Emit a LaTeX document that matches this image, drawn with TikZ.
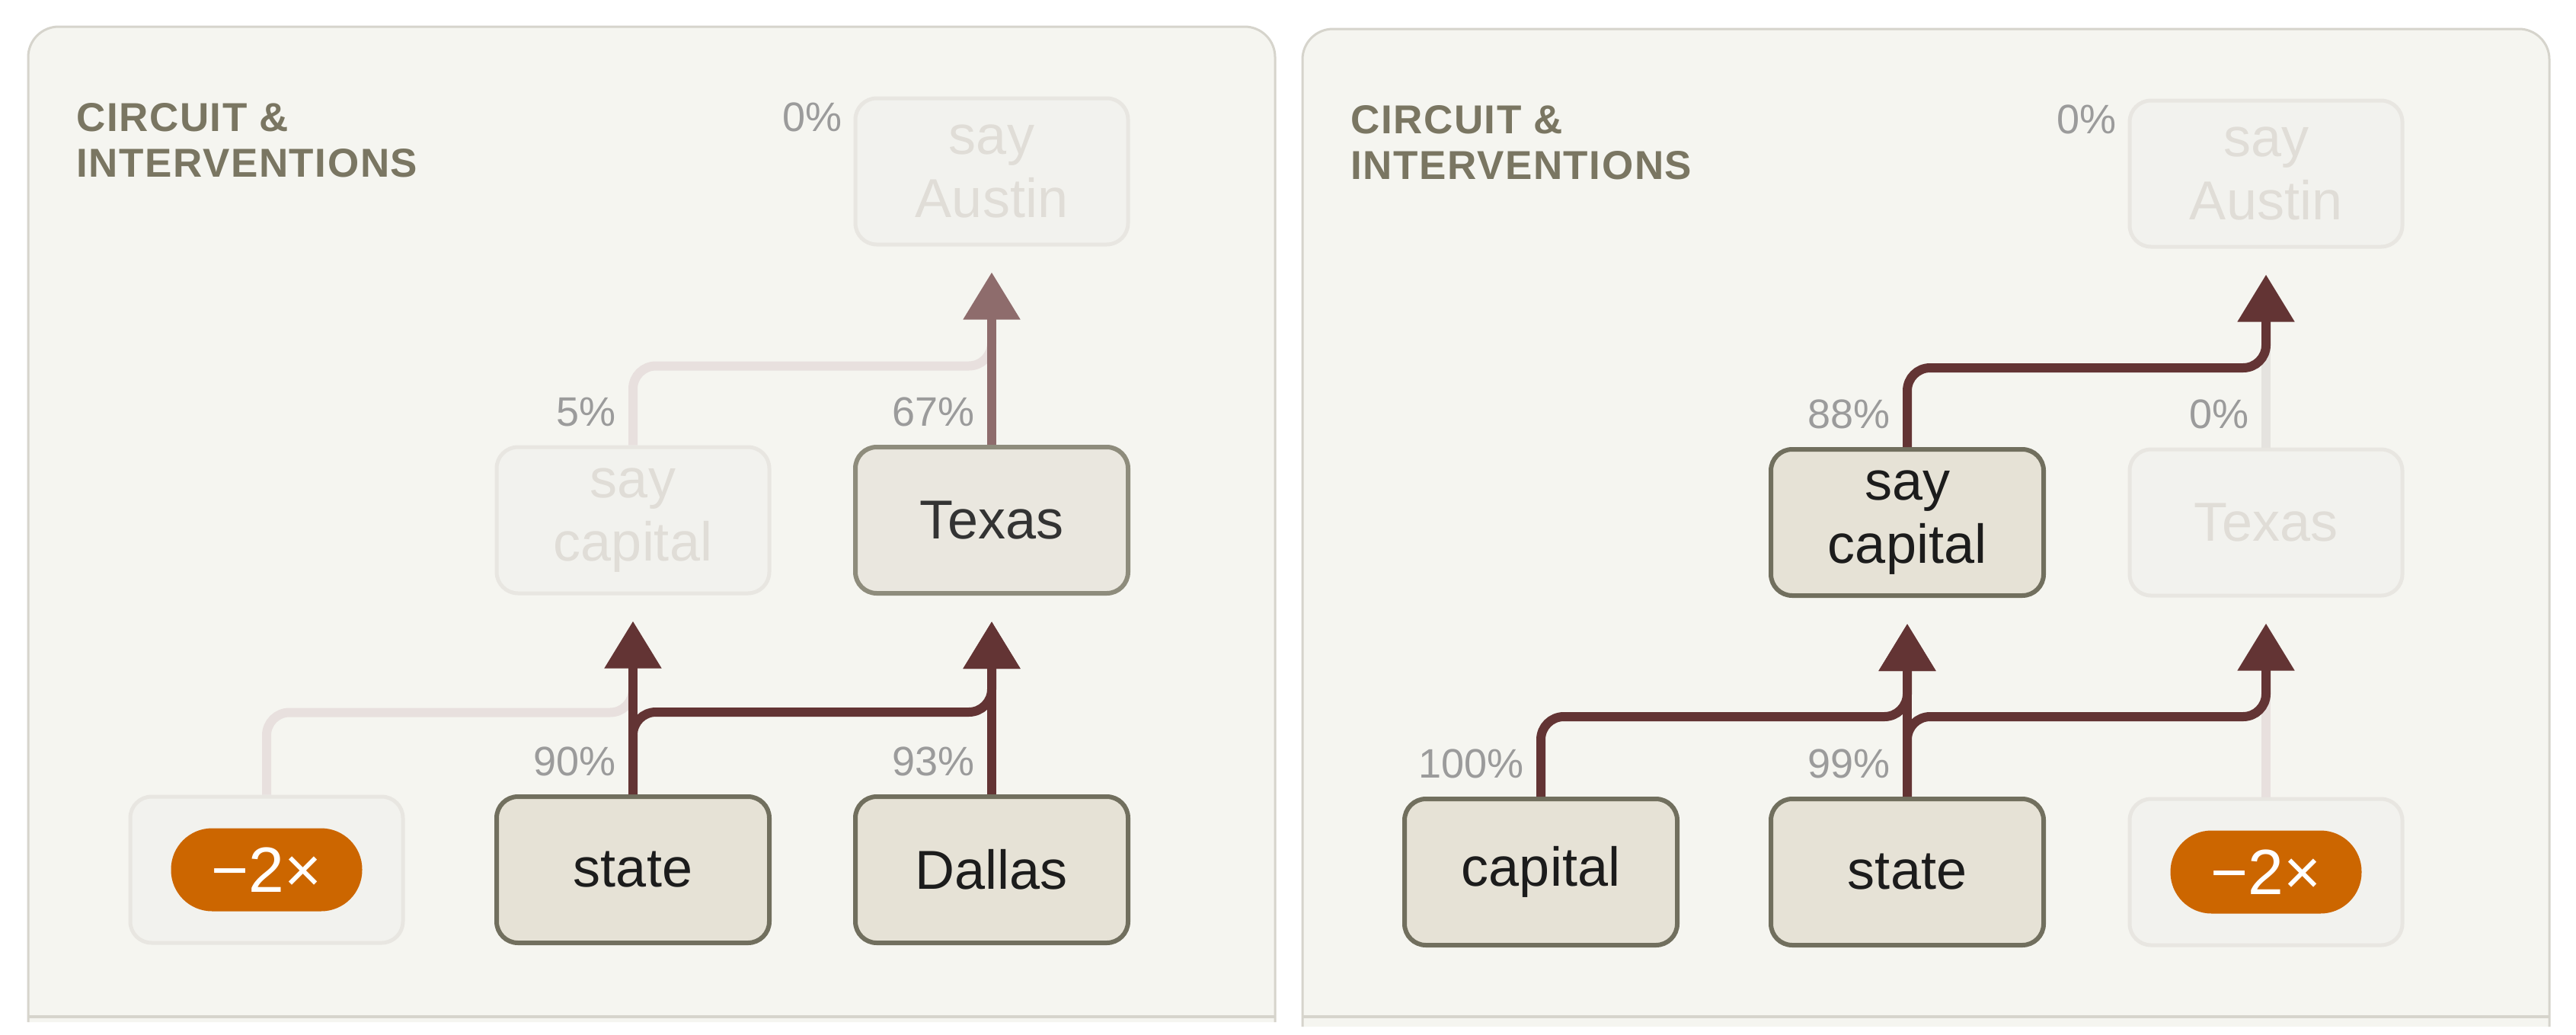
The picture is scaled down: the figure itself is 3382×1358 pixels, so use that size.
\documentclass[tikz,border=0pt]{standalone}
\usepackage{fontspec}
\setmainfont{Liberation Sans}
\usetikzlibrary{arrows.meta}
\definecolor{panelfill}{RGB}{245,245,240}
\definecolor{panelline}{RGB}{214,212,204}
\definecolor{titlecol}{RGB}{122,118,98}
\definecolor{activefill}{RGB}{230,226,214}
\definecolor{activeline}{RGB}{113,111,94}
\definecolor{softfill}{RGB}{234,231,223}
\definecolor{softline}{RGB}{142,140,124}
\definecolor{fadedfill}{RGB}{242,242,238}
\definecolor{fadedline}{RGB}{232,230,225}
\definecolor{fadedtext}{RGB}{224,221,215}
\definecolor{textdark}{RGB}{28,28,28}
\definecolor{pctgray}{RGB}{155,155,155}
\definecolor{edgedark}{RGB}{99,52,52}
\definecolor{edgemid}{RGB}{142,108,108}
\definecolor{edgefaint}{RGB}{232,224,222}
\definecolor{edgegray}{RGB}{229,227,223}
\definecolor{pillorange}{RGB}{204,102,0}
\tikzset{
  box/.style={rectangle, rounded corners=28pt, minimum width=358pt, minimum height=192pt,
    inner sep=0pt, align=center, font=\fontsize{72pt}{83pt}\selectfont},
  activebox/.style={box, fill=activefill, draw=activeline, line width=6pt, text=textdark},
  softbox/.style={box, fill=softfill, draw=softline, line width=6pt, text=black!80},
  fadedbox/.style={box, fill=fadedfill, draw=fadedline, line width=5pt, text=fadedtext},
  pct/.style={anchor=base east, inner sep=0pt, text=pctgray, font=\fontsize{54pt}{60pt}\selectfont},
  titletext/.style={anchor=base west, inner sep=0pt, text=titlecol,
    font=\fontsize{53pt}{60pt}\selectfont\bfseries\addfontfeature{LetterSpace=3}},
  pill/.style={rectangle, rounded corners=54pt, minimum width=251pt, minimum height=109pt,
    inner sep=0pt, fill=pillorange, text=white, font=\fontsize{84pt}{90pt}\selectfont},
  wire/.style={line width=12pt, rounded corners=30pt},
  arrowwire/.style={wire, -{Triangle[length=62pt,width=72pt]}, shorten >=34pt},
  darkedge/.style={arrowwire, draw=edgedark},
  midedge/.style={arrowwire, draw=edgemid},
  faintedge/.style={wire, draw=edgefaint},
  grayedge/.style={wire, draw=edgegray},
  panel/.style={draw=panelline, fill=panelfill, line width=3pt, rounded corners=40pt},
  panelbase/.style={draw=panelline, line width=4pt}
}
\begin{document}
\begin{tikzpicture}[x=1pt,y=-1pt]
\path[use as bounding box, fill=white] (0,0) rectangle (3382,1358);

% ---------------- left panel ----------------
\path[panel] (37,1342) -- (37,35) -- (1674,35) -- (1674,1342);
\draw[panelbase] (37,1335) -- (1674,1335);
\node[titletext] (L-t1) at (100,172) {CIRCUIT \&};
\node[titletext] (L-t2) at (100,232) {INTERVENTIONS};

\node[fadedbox] (L-sa) at (1302,225) {say\\Austin};
\node[fadedbox] (L-sc) at (831,683) {say\\capital};
\node[softbox] (L-texas) at (1302,683) {Texas};
\node[fadedbox] (L-neg) at (350,1142) {};
\node[pill] (L-pill) at (L-neg.center) {−2×};
\node[activebox] (L-state) at (831,1142) {state};
\node[activebox] (L-dallas) at (1302,1142) {Dallas};

\draw[faintedge] (L-sc.north) -- ++(0,-104) -| ([yshift=-100pt]L-sa.south);
\draw[faintedge] (L-neg.north) -- ++(0,-108) -| ([yshift=-110pt]L-sc.south);
\draw[midedge] (L-texas.north) -- (L-sa.south);
\draw[darkedge] (L-state.north) -- (L-sc.south);
\draw[darkedge] (L-state.north) -- ++(0,-108) -| (L-texas.south);
\draw[darkedge] (L-dallas.north) -- (L-texas.south);

\node[pct] (L-p0) at ([shift={(-15,46)}]L-sa.north west) {0\%};
\node[pct] (L-p5) at ([shift={(-22,-25)}]L-sc.north) {5\%};
\node[pct] (L-p67) at ([shift={(-22,-25)}]L-texas.north) {67\%};
\node[pct] (L-p90) at ([shift={(-22,-25)}]L-state.north) {90\%};
\node[pct] (L-p93) at ([shift={(-22,-25)}]L-dallas.north) {93\%};

% ---------------- right panel ----------------
\begin{scope}[xshift=1673pt, yshift=-3pt]
\path[panel] (37,1345) -- (37,35) -- (1674,35) -- (1674,1345);
\draw[panelbase] (37,1332) -- (1674,1332);
\node[titletext] (R-t1) at (100,172) {CIRCUIT \&};
\node[titletext] (R-t2) at (100,232) {INTERVENTIONS};

\node[fadedbox] (R-sa) at (1302,225) {say\\Austin};
\node[activebox] (R-sc) at (831,683) {say\\capital};
\node[fadedbox] (R-texas) at (1302,683) {Texas};
\node[activebox] (R-cap) at (350,1142) {capital};
\node[activebox] (R-state) at (831,1142) {state};
\node[fadedbox] (R-neg) at (1302,1142) {};
\node[pill] (R-pill) at (R-neg.center) {−2×};

\draw[grayedge] (R-texas.north) -- ([yshift=-100pt]R-sa.south);
\draw[faintedge] (R-neg.north) -- ([yshift=-110pt]R-texas.south);
\draw[darkedge] (R-sc.north) -- ++(0,-104) -| (R-sa.south);
\draw[darkedge] (R-cap.north) -- ++(0,-105) -| (R-sc.south);
\draw[darkedge] (R-state.north) -- (R-sc.south);
\draw[darkedge] (R-state.north) -- ++(0,-105) -| (R-texas.south);

\node[pct] (R-p0top) at ([shift={(-15,46)}]R-sa.north west) {0\%};
\node[pct] (R-p88) at ([shift={(-22,-25)}]R-sc.north) {88\%};
\node[pct] (R-p0) at ([shift={(-22,-25)}]R-texas.north) {0\%};
\node[pct] (R-p100) at ([shift={(-22,-25)}]R-cap.north) {100\%};
\node[pct] (R-p99) at ([shift={(-22,-25)}]R-state.north) {99\%};
\end{scope}
\end{tikzpicture}
\end{document}
